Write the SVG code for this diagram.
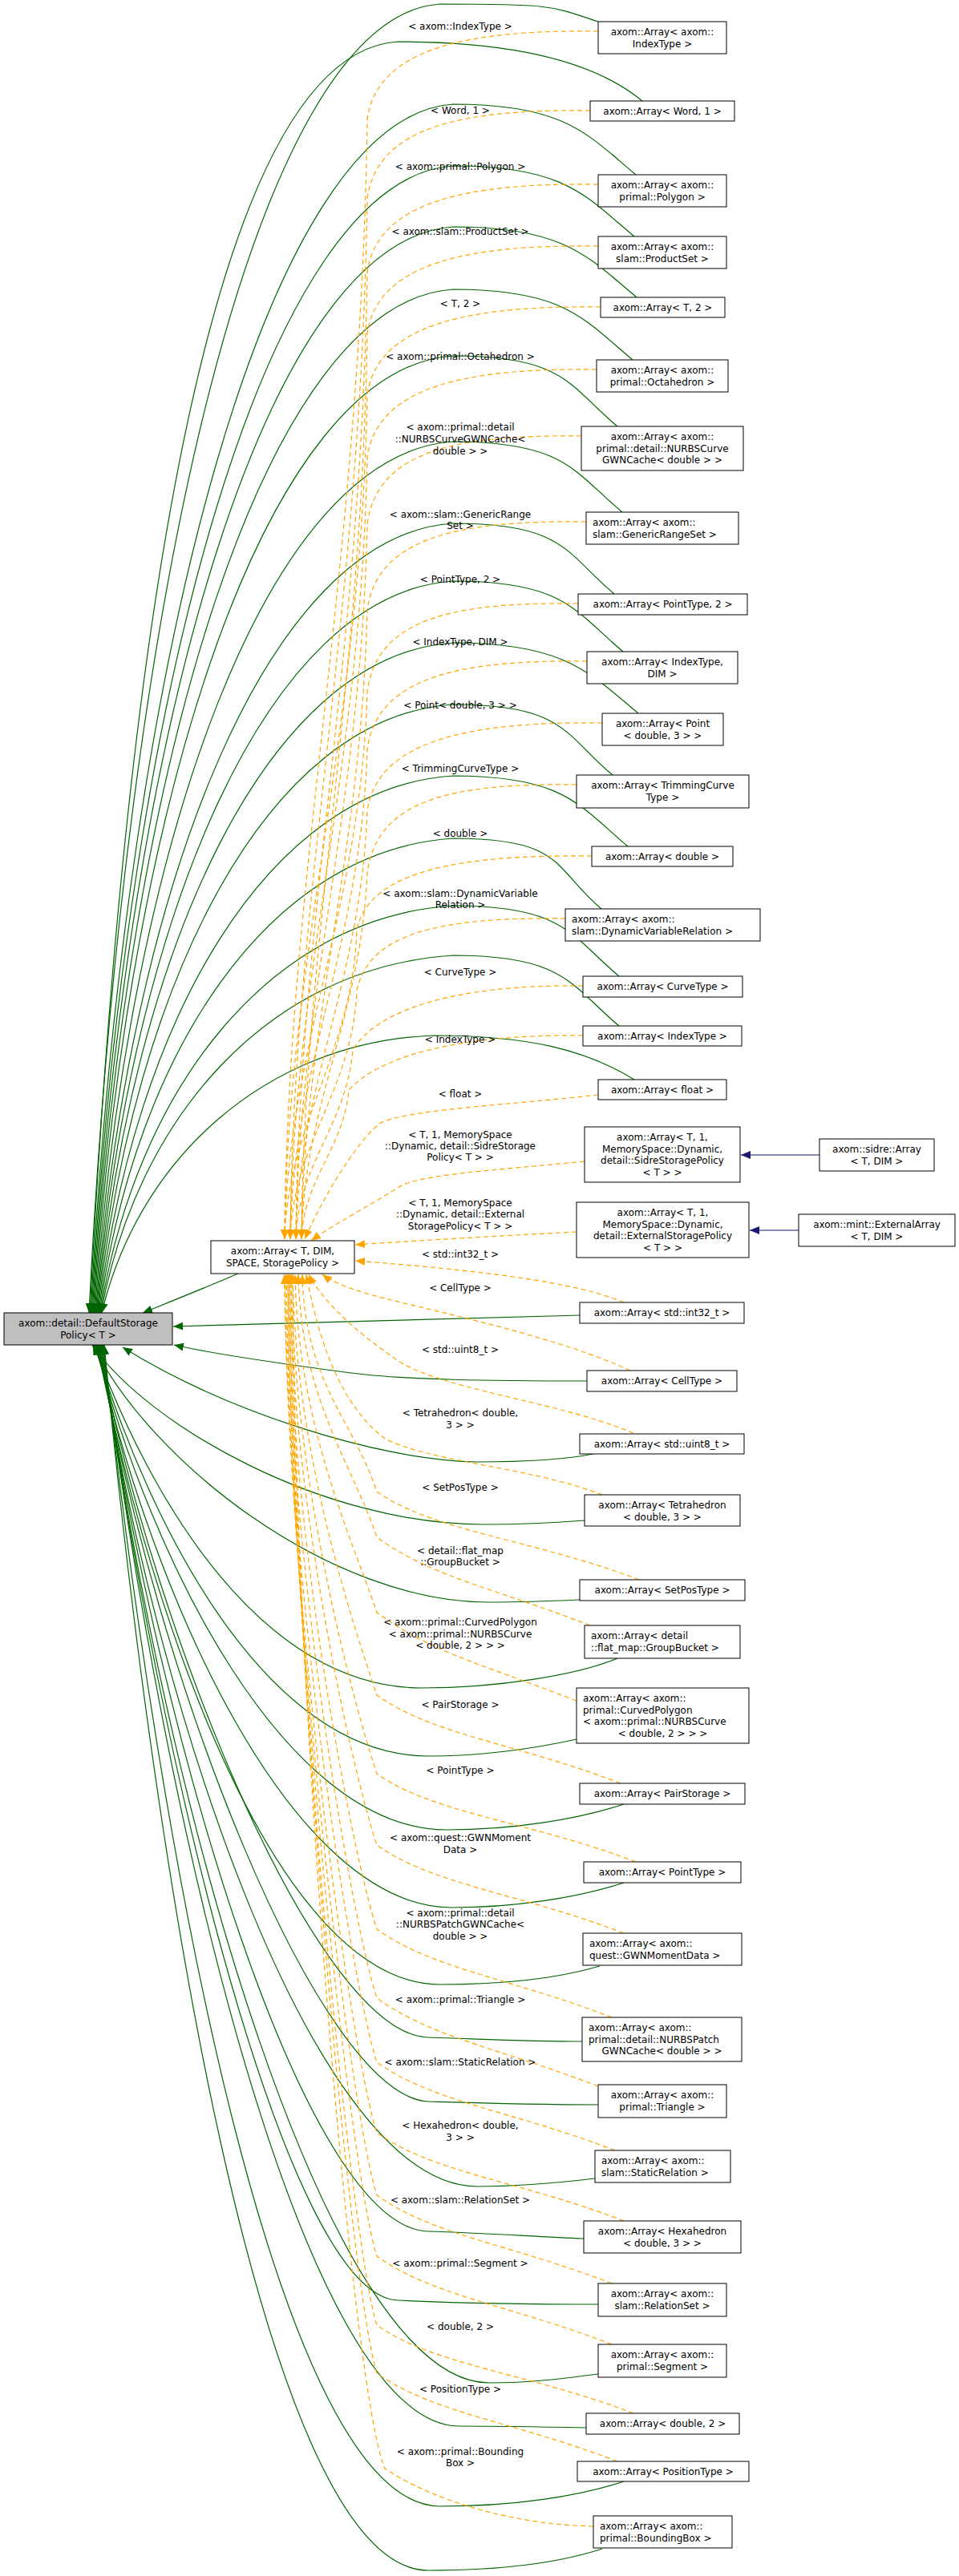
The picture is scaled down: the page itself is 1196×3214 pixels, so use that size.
<svg xmlns="http://www.w3.org/2000/svg" width="1196" height="3214" viewBox="0 0 1196 3214">
<style>
.n rect{fill:#fff;stroke:#000;stroke-width:1}
#n_default rect{fill:#bfbfbf}
text{font-family:"DejaVu Sans","Liberation Sans",sans-serif;font-size:12px;fill:#000}
.c{text-anchor:middle}
.g{fill:none;stroke:#006400;stroke-width:1.2;marker-end:url(#ag)}
.o{fill:none;stroke:#FFA500;stroke-width:1.2;stroke-dasharray:6,4;marker-end:url(#ao)}
.b{fill:none;stroke:#191970;stroke-width:1.2;marker-end:url(#ab)}
</style>
<defs>
<marker id="ag" viewBox="0 0 12 10" refX="12" refY="5" markerWidth="12" markerHeight="10" markerUnits="userSpaceOnUse" orient="auto"><path d="M0,0 L12,5 L0,10 z" fill="#006400"/></marker>
<marker id="ao" viewBox="0 0 12 10" refX="12" refY="5" markerWidth="12" markerHeight="10" markerUnits="userSpaceOnUse" orient="auto"><path d="M0,0 L12,5 L0,10 z" fill="#FFA500"/></marker>
<marker id="ab" viewBox="0 0 12 10" refX="12" refY="5" markerWidth="12" markerHeight="10" markerUnits="userSpaceOnUse" orient="auto"><path d="M0,0 L12,5 L0,10 z" fill="#191970"/></marker>
</defs>
<g id="edges">
<!-- green upper -->
<path class="g" d="M746,27 C686,7 689,5 549,5 C319,20 156,740 111,1638"/>
<path class="g" d="M801,126 C741,76 636,52 496,52 C266,67 157,766 112,1638"/>
<path class="g" d="M793,218 C733,168 705,130 565,130 C335,145 158,809 113,1638"/>
<path class="g" d="M791,295 C731,245 705,207 565,207 C335,222 159,851 114,1638"/>
<path class="g" d="M794,371 C734,321 705,283 565,283 C335,298 160,893 115,1638"/>
<path class="g" d="M789,449 C729,399 705,361 565,361 C335,376 161,936 116,1638"/>
<path class="g" d="M770,532 C710,482 705,444 565,444 C335,459 162,981 117,1638"/>
<path class="g" d="M776,639 C716,589 705,551 565,551 C335,566 163,1040 118,1638"/>
<path class="g" d="M766,741 C706,691 705,653 565,653 C335,668 164,1096 119,1638"/>
<path class="g" d="M777,813 C717,763 705,725 565,725 C335,740 165,1136 120,1638"/>
<path class="g" d="M796,890 C736,840 705,802 565,802 C335,817 166,1178 121,1638"/>
<path class="g" d="M764,967 C704,917 705,879 565,879 C335,894 167,1221 122,1638"/>
<path class="g" d="M783,1056 C723,1006 705,968 565,968 C335,983 168,1270 123,1638"/>
<path class="g" d="M750,1134 C690,1084 705,1046 565,1046 C335,1061 169,1312 124,1638"/>
<path class="g" d="M772,1218 C712,1168 705,1130 565,1130 C335,1145 170,1359 125,1638"/>
<path class="g" d="M772,1280 C712,1230 705,1192 565,1192 C335,1207 171,1393 126,1638"/>
<path class="g" d="M791,1347 C731,1310 660,1292 540,1292 C330,1300 172,1448 127,1638"/>
<path class="g" d="M297,1589 C260,1605 210,1625 178,1638"/>
<path class="g" d="M723,1641 L216,1655"/>
<!-- green lower -->
<path class="g" d="M732,1723 C620,1723 500,1722 430,1712 C340,1700 260,1688 217,1678"/>
<path class="g" d="M740,1814 C700,1822 650,1824 595,1824 C470,1822 280,1760 153,1681"/>
<path class="g" d="M729,1897 C690,1900 650,1902 603,1902 C403,1902 185,1779 115,1678"/>
<path class="g" d="M723,1996 C680,1998 650,1999 610,1999 C410,1999 186,1822 116,1678"/>
<path class="g" d="M770,2069 C720,2090 620,2106 526,2106 C326,2106 187,1871 117,1678"/>
<path class="g" d="M719,2170 C660,2183 600,2191 534,2191 C334,2191 188,1909 118,1678"/>
<path class="g" d="M778,2251 C720,2270 640,2283 557,2283 C357,2283 189,1950 119,1678"/>
<path class="g" d="M778,2349 C720,2368 640,2380 564,2380 C364,2380 190,1994 120,1678"/>
<path class="g" d="M748,2453 C690,2470 620,2476 549,2476 C349,2476 191,2037 121,1678"/>
<path class="g" d="M726,2547 C660,2547 600,2544 534,2542 C400,2538 200,2067 122,1678"/>
<path class="g" d="M746,2626 C660,2626 600,2624 534,2622 C400,2615 195,2104 123,1678"/>
<path class="g" d="M742,2718 C700,2723 650,2728 595,2728 C395,2728 198,2151 124,1678"/>
<path class="g" d="M728,2793 C660,2790 600,2786 534,2784 C380,2780 200,2176 125,1678"/>
<path class="g" d="M746,2875 C650,2875 560,2873 496,2870 C360,2865 200,2213 126,1678"/>
<path class="g" d="M746,2962 C700,2968 660,2973 610,2973 C410,2973 205,2261 127,1678"/>
<path class="g" d="M731,3029 C680,3028 620,3027 572,3027 C380,3024 205,2286 128,1678"/>
<path class="g" d="M778,3096 C720,3115 640,3127 549,3127 C349,3127 200,2330 129,1678"/>
<path class="g" d="M751,3180 C690,3200 610,3207 534,3207 C334,3207 195,2366 130,1678"/>
<!-- orange upper -->
<path class="o" d="M746,39 C586,37 470,59 458,149 C450,708 358,1094 355,1546"/>
<path class="o" d="M736,138 C576,136 470,158 458,248 C450,767 365,1124 362,1546"/>
<path class="o" d="M746,230 C586,228 470,250 458,340 C450,822 372,1151 369,1546"/>
<path class="o" d="M746,307 C586,305 470,327 458,417 C450,869 379,1174 376,1546"/>
<path class="o" d="M749,383 C589,381 470,403 458,493 C450,914 358,1197 355,1546"/>
<path class="o" d="M744,461 C584,459 470,481 458,571 C450,961 365,1220 362,1546"/>
<path class="o" d="M725,544 C565,542 470,564 458,654 C450,1011 372,1245 369,1546"/>
<path class="o" d="M731,651 C571,649 470,671 458,761 C450,1075 379,1277 376,1546"/>
<path class="o" d="M721,753 C561,751 470,773 458,863 C450,1136 358,1308 355,1546"/>
<path class="o" d="M732,825 C572,823 470,845 458,935 C450,1179 365,1330 362,1546"/>
<path class="o" d="M751,902 C591,900 470,922 458,1012 C450,1226 372,1353 369,1546"/>
<path class="o" d="M719,979 C559,977 470,999 458,1089 C450,1272 379,1376 376,1546"/>
<path class="o" d="M738,1068 C578,1066 460,1085 445,1160 C440,1314 358,1403 355,1546"/>
<path class="o" d="M705,1146 C545,1144 460,1165 445,1236 C440,1360 365,1426 362,1546"/>
<path class="o" d="M727,1230 C567,1228 470,1260 440,1310 C432,1404 372,1451 369,1546"/>
<path class="o" d="M727,1292 C567,1290 470,1320 435,1360 C428,1434 379,1470 376,1546"/>
<path class="o" d="M746,1366 C640,1378 500,1385 473,1402 C440,1430 400,1500 380,1546"/>
<path class="o" d="M729,1449 C620,1460 520,1465 496,1482 C460,1505 420,1525 388,1548"/>
<path class="o" d="M719,1537 C620,1542 520,1548 443,1553"/>
<path class="o" d="M778,1625 C720,1600 600,1585 443,1573"/>
<path class="o" d="M786,1710 C700,1670 560,1640 480,1620 C440,1610 415,1600 402,1590"/>
<!-- orange lower -->
<path class="o" d="M790,1788 C700,1750 560,1735 500,1700 C440,1660 400,1620 385,1590"/>
<path class="o" d="M751,1865 C660,1830 540,1825 480,1795 C420,1750 395,1660 382,1590"/>
<path class="o" d="M797,1971 C667,1921 540,1911 470,1861 C440,1771 380,1725 377,1590"/>
<path class="o" d="M736,2028 C606,1978 540,1968 470,1918 C440,1828 375,1745 372,1590"/>
<path class="o" d="M719,2122 C589,2072 540,2062 470,2012 C440,1922 371,1778 368,1590"/>
<path class="o" d="M774,2225 C644,2175 540,2165 470,2115 C440,2025 368,1814 365,1590"/>
<path class="o" d="M793,2323 C663,2273 540,2263 470,2213 C440,2123 366,1848 363,1590"/>
<path class="o" d="M778,2412 C648,2362 540,2352 470,2302 C440,2212 364,1879 361,1590"/>
<path class="o" d="M763,2517 C633,2467 540,2457 470,2407 C440,2317 362,1916 359,1590"/>
<path class="o" d="M746,2603 C616,2553 540,2543 470,2493 C440,2403 360,1946 357,1590"/>
<path class="o" d="M767,2683 C637,2633 540,2623 470,2573 C440,2483 358,1974 355,1590"/>
<path class="o" d="M778,2771 C648,2721 540,2711 470,2661 C440,2571 358,2005 355,1590"/>
<path class="o" d="M763,2849 C633,2799 540,2789 470,2739 C440,2649 360,2032 357,1590"/>
<path class="o" d="M763,2925 C633,2875 540,2865 470,2815 C440,2725 362,2059 359,1590"/>
<path class="o" d="M790,3011 C660,2961 540,2951 470,2901 C440,2811 364,2089 361,1590"/>
<path class="o" d="M770,3071 C640,3021 540,3011 470,2961 C440,2871 366,2110 363,1590"/>
<path class="o" d="M740,3152 C640,3150 540,3120 480,3080 C440,2990 368,2138 365,1590"/>
<!-- navy -->
<path class="b" d="M1022,1441 L924,1441"/>
<path class="b" d="M996,1535 L935,1535"/>
<!-- labels -->
<g class="c">
<text x="574" y="37">&lt; axom::IndexType &gt;</text>
<text x="574" y="142">&lt; Word, 1 &gt;</text>
<text x="574" y="212">&lt; axom::primal::Polygon &gt;</text>
<text x="574" y="293">&lt; axom::slam::ProductSet &gt;</text>
<text x="574" y="383">&lt; T, 2 &gt;</text>
<text x="574" y="449">&lt; axom::primal::Octahedron &gt;</text>
<text x="574" y="537">&lt; axom::primal::detail</text>
<text x="574" y="552">::NURBSCurveGWNCache&lt;</text>
<text x="574" y="567">double &gt; &gt;</text>
<text x="574" y="646">&lt; axom::slam::GenericRange</text>
<text x="574" y="660">Set &gt;</text>
<text x="574" y="727">&lt; PointType, 2 &gt;</text>
<text x="574" y="805">&lt; IndexType, DIM &gt;</text>
<text x="574" y="884">&lt; Point&lt; double, 3 &gt; &gt;</text>
<text x="574" y="963">&lt; TrimmingCurveType &gt;</text>
<text x="574" y="1044">&lt; double &gt;</text>
<text x="574" y="1119">&lt; axom::slam::DynamicVariable</text>
<text x="574" y="1133">Relation &gt;</text>
<text x="574" y="1217">&lt; CurveType &gt;</text>
<text x="574" y="1301">&lt; IndexType &gt;</text>
<text x="574" y="1369">&lt; float &gt;</text>
<text x="574" y="1420">&lt; T, 1, MemorySpace</text>
<text x="574" y="1434">::Dynamic, detail::SidreStorage</text>
<text x="574" y="1448">Policy&lt; T &gt; &gt;</text>
<text x="574" y="1505">&lt; T, 1, MemorySpace</text>
<text x="574" y="1519">::Dynamic, detail::External</text>
<text x="574" y="1534">StoragePolicy&lt; T &gt; &gt;</text>
<text x="574" y="1569">&lt; std::int32_t &gt;</text>
<text x="574" y="1611">&lt; CellType &gt;</text>
<text x="574" y="1688">&lt; std::uint8_t &gt;</text>
<text x="574" y="1767">&lt; Tetrahedron&lt; double,</text>
<text x="574" y="1782">3 &gt; &gt;</text>
<text x="574" y="1860">&lt; SetPosType &gt;</text>
<text x="574" y="1939">&lt; detail::flat_map</text>
<text x="574" y="1953">::GroupBucket &gt;</text>
<text x="574" y="2028">&lt; axom::primal::CurvedPolygon</text>
<text x="574" y="2043">&lt; axom::primal::NURBSCurve</text>
<text x="574" y="2057">&lt; double, 2 &gt; &gt; &gt;</text>
<text x="574" y="2131">&lt; PairStorage &gt;</text>
<text x="574" y="2213">&lt; PointType &gt;</text>
<text x="574" y="2297">&lt; axom::quest::GWNMoment</text>
<text x="574" y="2312">Data &gt;</text>
<text x="574" y="2391">&lt; axom::primal::detail</text>
<text x="574" y="2405">::NURBSPatchGWNCache&lt;</text>
<text x="574" y="2420">double &gt; &gt;</text>
<text x="574" y="2499">&lt; axom::primal::Triangle &gt;</text>
<text x="574" y="2577">&lt; axom::slam::StaticRelation &gt;</text>
<text x="574" y="2656">&lt; Hexahedron&lt; double,</text>
<text x="574" y="2671">3 &gt; &gt;</text>
<text x="574" y="2749">&lt; axom::slam::RelationSet &gt;</text>
<text x="574" y="2828">&lt; axom::primal::Segment &gt;</text>
<text x="574" y="2907">&lt; double, 2 &gt;</text>
<text x="574" y="2985">&lt; PositionType &gt;</text>
<text x="574" y="3063">&lt; axom::primal::Bounding</text>
<text x="574" y="3077">Box &gt;</text>
</g>
</g>
<g id="n_indextype" class="n"><rect x="746" y="27" width="160" height="40"/><text class="c" x="826" y="44">axom::Array&lt; axom::</text><text class="c" x="826" y="58.5">IndexType &gt;</text></g>
<g id="n_word" class="n"><rect x="736" y="126" width="180" height="25"/><text class="c" x="826" y="143">axom::Array&lt; Word, 1 &gt;</text></g>
<g id="n_polygon" class="n"><rect x="746" y="218" width="160" height="40"/><text class="c" x="826" y="235">axom::Array&lt; axom::</text><text class="c" x="826" y="249.5">primal::Polygon &gt;</text></g>
<g id="n_productset" class="n"><rect x="746" y="295" width="160" height="40"/><text class="c" x="826" y="312">axom::Array&lt; axom::</text><text class="c" x="826" y="326.5">slam::ProductSet &gt;</text></g>
<g id="n_t2" class="n"><rect x="749" y="371" width="155" height="25"/><text class="c" x="826.5" y="388">axom::Array&lt; T, 2 &gt;</text></g>
<g id="n_octa" class="n"><rect x="744" y="449" width="164" height="40"/><text class="c" x="826" y="466">axom::Array&lt; axom::</text><text class="c" x="826" y="480.5">primal::Octahedron &gt;</text></g>
<g id="n_nurbscurve" class="n"><rect x="725" y="532" width="202" height="55"/><text class="c" x="826" y="549">axom::Array&lt; axom::</text><text class="c" x="826" y="563.5">primal::detail::NURBSCurve</text><text class="c" x="826" y="578">GWNCache&lt; double &gt; &gt;</text></g>
<g id="n_genrange" class="n"><rect x="731" y="639" width="190" height="40"/><text x="739" y="656">axom::Array&lt; axom::</text><text x="739" y="670.5">slam::GenericRangeSet &gt;</text></g>
<g id="n_pt2" class="n"><rect x="721" y="741" width="211" height="26"/><text class="c" x="826.5" y="758">axom::Array&lt; PointType, 2 &gt;</text></g>
<g id="n_idxdim" class="n"><rect x="732" y="813" width="188" height="40"/><text class="c" x="826" y="830">axom::Array&lt; IndexType,</text><text class="c" x="826" y="844.5">DIM &gt;</text></g>
<g id="n_point" class="n"><rect x="751" y="890" width="151" height="40"/><text class="c" x="826.5" y="907">axom::Array&lt; Point</text><text class="c" x="826.5" y="921.5">&lt; double, 3 &gt; &gt;</text></g>
<g id="n_trim" class="n"><rect x="719" y="967" width="215" height="41"/><text class="c" x="826.5" y="984">axom::Array&lt; TrimmingCurve</text><text class="c" x="826.5" y="998.5">Type &gt;</text></g>
<g id="n_double" class="n"><rect x="738" y="1056" width="176" height="25"/><text class="c" x="826" y="1073">axom::Array&lt; double &gt;</text></g>
<g id="n_dynvar" class="n"><rect x="705" y="1134" width="243" height="40"/><text x="713" y="1151">axom::Array&lt; axom::</text><text x="713" y="1165.5">slam::DynamicVariableRelation &gt;</text></g>
<g id="n_curve" class="n"><rect x="727" y="1218" width="199" height="26"/><text class="c" x="826.5" y="1235">axom::Array&lt; CurveType &gt;</text></g>
<g id="n_indextype2" class="n"><rect x="727" y="1280" width="198" height="25"/><text class="c" x="826" y="1297">axom::Array&lt; IndexType &gt;</text></g>
<g id="n_float" class="n"><rect x="746" y="1347" width="160" height="25"/><text class="c" x="826" y="1364">axom::Array&lt; float &gt;</text></g>
<g id="n_sidrepol" class="n"><rect x="729" y="1406" width="194" height="69"/><text class="c" x="826" y="1423">axom::Array&lt; T, 1,</text><text class="c" x="826" y="1437.5">MemorySpace::Dynamic,</text><text class="c" x="826" y="1452">detail::SidreStoragePolicy</text><text class="c" x="826" y="1466.5">&lt; T &gt; &gt;</text></g>
<g id="n_sidre" class="n"><rect x="1022" y="1421" width="143" height="40"/><text class="c" x="1093.5" y="1438">axom::sidre::Array</text><text class="c" x="1093.5" y="1452.5">&lt; T, DIM &gt;</text></g>
<g id="n_extpol" class="n"><rect x="719" y="1500" width="215" height="69"/><text class="c" x="826.5" y="1517">axom::Array&lt; T, 1,</text><text class="c" x="826.5" y="1531.5">MemorySpace::Dynamic,</text><text class="c" x="826.5" y="1546">detail::ExternalStoragePolicy</text><text class="c" x="826.5" y="1560.5">&lt; T &gt; &gt;</text></g>
<g id="n_mint" class="n"><rect x="996" y="1515" width="195" height="40"/><text class="c" x="1093.5" y="1532">axom::mint::ExternalArray</text><text class="c" x="1093.5" y="1546.5">&lt; T, DIM &gt;</text></g>
<g id="n_arrayT" class="n"><rect x="263" y="1548" width="179" height="41"/><text class="c" x="352.5" y="1565">axom::Array&lt; T, DIM,</text><text class="c" x="352.5" y="1579.5">SPACE, StoragePolicy &gt;</text></g>
<g id="n_default" class="n"><rect x="5" y="1638" width="210" height="40"/><text class="c" x="110" y="1655">axom::detail::DefaultStorage</text><text class="c" x="110" y="1669.5">Policy&lt; T &gt;</text></g>
<g id="n_int32" class="n"><rect x="723" y="1625" width="205" height="26"/><text class="c" x="825.5" y="1642">axom::Array&lt; std::int32_t &gt;</text></g>
<g id="n_celltype" class="n"><rect x="732" y="1710" width="187" height="26"/><text class="c" x="825.5" y="1727">axom::Array&lt; CellType &gt;</text></g>
<g id="n_uint8" class="n"><rect x="723" y="1789" width="205" height="25"/><text class="c" x="825.5" y="1806">axom::Array&lt; std::uint8_t &gt;</text></g>
<g id="n_tetra" class="n"><rect x="729" y="1865" width="194" height="39"/><text class="c" x="826" y="1882">axom::Array&lt; Tetrahedron</text><text class="c" x="826" y="1896.5">&lt; double, 3 &gt; &gt;</text></g>
<g id="n_setpos" class="n"><rect x="723" y="1971" width="206" height="26"/><text class="c" x="826" y="1988">axom::Array&lt; SetPosType &gt;</text></g>
<g id="n_flatmap" class="n"><rect x="729" y="2028" width="194" height="41"/><text x="737" y="2045">axom::Array&lt; detail</text><text x="737" y="2059.5">::flat_map::GroupBucket &gt;</text></g>
<g id="n_curvedpoly" class="n"><rect x="719" y="2106" width="215" height="69"/><text x="727" y="2123">axom::Array&lt; axom::</text><text x="727" y="2137.5">primal::CurvedPolygon</text><text x="727" y="2152">&lt; axom::primal::NURBSCurve</text><text class="c" x="826.5" y="2166.5">&lt; double, 2 &gt; &gt; &gt;</text></g>
<g id="n_pair" class="n"><rect x="723" y="2225" width="206" height="26"/><text class="c" x="826" y="2242">axom::Array&lt; PairStorage &gt;</text></g>
<g id="n_pointtype" class="n"><rect x="728" y="2323" width="196" height="26"/><text class="c" x="826" y="2340">axom::Array&lt; PointType &gt;</text></g>
<g id="n_gwnmoment" class="n"><rect x="727" y="2412" width="198" height="40"/><text x="735" y="2429">axom::Array&lt; axom::</text><text x="735" y="2443.5">quest::GWNMomentData &gt;</text></g>
<g id="n_nurbspatch" class="n"><rect x="726" y="2517" width="199" height="55"/><text x="734" y="2534">axom::Array&lt; axom::</text><text x="734" y="2548.5">primal::detail::NURBSPatch</text><text class="c" x="825.5" y="2563">GWNCache&lt; double &gt; &gt;</text></g>
<g id="n_triangle" class="n"><rect x="746" y="2601" width="160" height="41"/><text class="c" x="826" y="2618">axom::Array&lt; axom::</text><text class="c" x="826" y="2632.5">primal::Triangle &gt;</text></g>
<g id="n_static" class="n"><rect x="742" y="2683" width="169" height="40"/><text x="750" y="2700">axom::Array&lt; axom::</text><text x="750" y="2714.5">slam::StaticRelation &gt;</text></g>
<g id="n_hexa" class="n"><rect x="728" y="2771" width="196" height="40"/><text class="c" x="826" y="2788">axom::Array&lt; Hexahedron</text><text class="c" x="826" y="2802.5">&lt; double, 3 &gt; &gt;</text></g>
<g id="n_relset" class="n"><rect x="746" y="2849" width="160" height="41"/><text class="c" x="826" y="2866">axom::Array&lt; axom::</text><text class="c" x="826" y="2880.5">slam::RelationSet &gt;</text></g>
<g id="n_segment" class="n"><rect x="746" y="2925" width="160" height="41"/><text class="c" x="826" y="2942">axom::Array&lt; axom::</text><text class="c" x="826" y="2956.5">primal::Segment &gt;</text></g>
<g id="n_double2" class="n"><rect x="731" y="3011" width="191" height="26"/><text class="c" x="826.5" y="3028">axom::Array&lt; double, 2 &gt;</text></g>
<g id="n_position" class="n"><rect x="720" y="3071" width="214" height="25"/><text class="c" x="827" y="3088">axom::Array&lt; PositionType &gt;</text></g>
<g id="n_bbox" class="n"><rect x="740" y="3139" width="173" height="40"/><text x="748" y="3156">axom::Array&lt; axom::</text><text x="748" y="3170.5">primal::BoundingBox &gt;</text></g>
</svg>
